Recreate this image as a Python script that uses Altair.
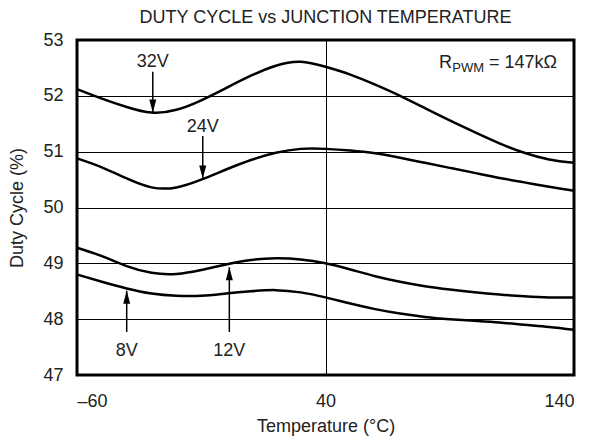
import altair as alt
import pandas as pd

FONT = "Liberation Sans"
TXT = "#222222"
FS = 18

temps = [-60, -50, -40, -30, -20, -10, 0, 10, 20, 30, 40, 50, 60, 70, 80, 90, 100, 110, 120, 130, 140]
duty_32v = [52.12, 51.95, 51.80, 51.70, 51.75, 51.92, 52.14, 52.36, 52.54, 52.61, 52.52, 52.38, 52.20, 52.00, 51.78, 51.56, 51.35, 51.15, 50.98, 50.86, 50.80]
duty_24v = [50.88, 50.72, 50.52, 50.36, 50.36, 50.50, 50.68, 50.85, 50.98, 51.05, 51.05, 51.02, 50.97, 50.89, 50.80, 50.71, 50.62, 50.53, 50.45, 50.37, 50.30]
duty_12v = [49.28, 49.13, 48.95, 48.83, 48.81, 48.88, 48.98, 49.06, 49.09, 49.07, 49.00, 48.89, 48.77, 48.67, 48.59, 48.53, 48.48, 48.44, 48.41, 48.39, 48.39]
duty_8v = [48.80, 48.67, 48.55, 48.46, 48.42, 48.42, 48.46, 48.50, 48.52, 48.48, 48.39, 48.28, 48.18, 48.10, 48.04, 48.00, 47.97, 47.94, 47.90, 47.86, 47.81]

# annotations (data units)
ann_labels = ["32V", "24V", "8V", "12V"]
ann_T = [-29.5, -9.4, -40.0, 1.3]
ann_text_v = [52.51, 51.36, 47.34, 47.34]
ann_tail_v = [52.43, 51.28, 47.77, 47.77]
ann_tip_v = [51.70, 50.52, 48.51, 48.93]
ann_dir = ["down", "down", "up", "up"]

rpwm_parts = ["R", "PWM", "= 147kΩ"]
rpwm_T = [85.7, 91.0, 105.8]
rpwm_v = [52.49, 52.43, 52.49]

x_ticks = [-60, 40, 140]
y_ticks = [47, 48, 49, 50, 51, 52, 53]

rows = []
for name, vals in [("32V", duty_32v), ("24V", duty_24v), ("12V", duty_12v), ("8V", duty_8v)]:
    for t, v in zip(temps, vals):
        rows.append({"series": name, "T": t, "v": v})
curves = pd.DataFrame(rows)

ann = pd.DataFrame({"label": ann_labels, "T": ann_T, "v": ann_text_v,
                    "tail": ann_tail_v, "tip": ann_tip_v, "dir": ann_dir})
rp = pd.DataFrame({"part": rpwm_parts, "T": rpwm_T, "v": rpwm_v})


def xenc(field="T"):
    return alt.X(f"{field}:Q",
                 scale=alt.Scale(domain=[-60, 140], nice=False, zero=False),
                 axis=alt.Axis(values=x_ticks, title="Temperature (°C)",
                               labelExpr="datum.value < 0 ? '–' + abs(datum.value) : datum.label",
                               grid=True, gridColor="black", gridWidth=1, gridOpacity=1,
                               domain=False, ticks=False, labelPadding=17, titlePadding=7,
                               labelFontSize=FS, titleFontSize=FS, labelFont=FONT, titleFont=FONT,
                               labelColor=TXT, titleColor=TXT, titleFontWeight="normal"))


def yenc(field="v"):
    return alt.Y(f"{field}:Q",
                 scale=alt.Scale(domain=[47, 53], nice=False, zero=False),
                 axis=alt.Axis(values=y_ticks, title="Duty Cycle (%)",
                               grid=True, gridColor="black", gridWidth=1, gridOpacity=1,
                               domain=False, ticks=False, labelPadding=14, titlePadding=16,
                               labelFontSize=FS, titleFontSize=FS, labelFont=FONT, titleFont=FONT,
                               labelColor=TXT, titleColor=TXT, titleFontWeight="normal"))


lines = alt.Chart(curves).mark_line(color="black", strokeWidth=2.5, interpolate="natural").encode(
    x=xenc(), y=yenc(), detail="series:N")

labels = alt.Chart(ann).mark_text(align="center", baseline="alphabetic", fontSize=FS,
                                  font=FONT, color=TXT).encode(x=xenc(), y=yenc(), text="label:N")

shafts = alt.Chart(ann).mark_rule(color="black", strokeWidth=1.5).encode(
    x=xenc(), y=yenc("tail"), y2="tip:Q")

down_path = "M0,0 L-0.27,-1 L0.27,-1 Z"
up_path = "M0,0 L-0.27,1 L0.27,1 Z"
heads_down = alt.Chart(ann).transform_filter(alt.datum.dir == "down").mark_point(
    shape=down_path, filled=True, size=676, color="black", opacity=1, strokeWidth=0).encode(
    x=xenc(), y=yenc("tip"))
heads_up = alt.Chart(ann).transform_filter(alt.datum.dir == "up").mark_point(
    shape=up_path, filled=True, size=676, color="black", opacity=1, strokeWidth=0).encode(
    x=xenc(), y=yenc("tip"))

rp_big = alt.Chart(rp).transform_filter(alt.datum.part != "PWM").mark_text(
    align="left", baseline="alphabetic", fontSize=FS, font=FONT, color=TXT).encode(
    x=xenc(), y=yenc(), text="part:N")
rp_sub = alt.Chart(rp).transform_filter(alt.datum.part == "PWM").mark_text(
    align="left", baseline="alphabetic", fontSize=13, font=FONT, color=TXT).encode(
    x=xenc(), y=yenc(), text="part:N")

chart = alt.layer(lines, shafts, heads_down, heads_up, labels, rp_big, rp_sub).properties(
    width=497, height=335,
    title=alt.TitleParams("DUTY CYCLE vs JUNCTION TEMPERATURE", fontSize=FS, font=FONT,
                          fontWeight="normal", color=TXT, anchor="middle", offset=4),
    autosize=alt.AutoSizeParams(type="none"),
    padding={"left": 69, "top": 32, "right": 9, "bottom": 62},
).configure_view(stroke="black", strokeWidth=3)

chart.save("out.html", embed_options={"renderer": "svg", "actions": False})
